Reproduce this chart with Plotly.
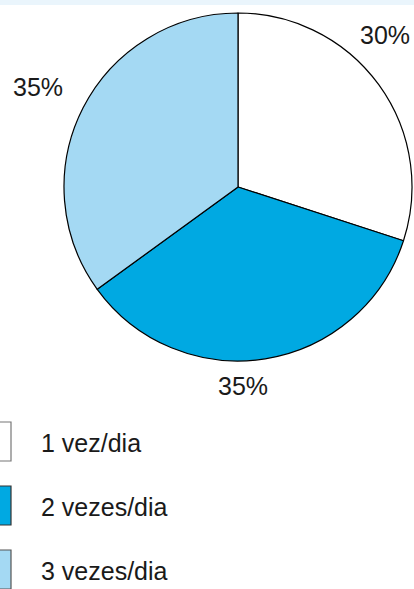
import plotly.graph_objects as go

W, H = 414, 589

labels = ['1 vez/dia', '2 vezes/dia', '3 vezes/dia']
values = [30, 35, 35]
colors = ['#ffffff', '#00a9e2', '#a4d9f3']
legend_edge = ['#777777', '#333333', '#555555']

# where the percent labels sit (pixels)
pct_pos = [(385, 35), (243, 386), (38, 87)]

fig = go.Figure(go.Pie(labels = labels,
                       values = values,
                       sort = False,
                       direction = 'clockwise',
                       rotation = 0,
                       textinfo = 'none',
                       marker = dict(colors = colors, line = dict(color = '#000000', width = 1.2)),
                       domain = dict(x = [64 / W, 412 / W], y = [1 - 361 / H, 1 - 13 / H]),
                       showlegend = False))

font = dict(family = 'Liberation Sans, Arial, sans-serif', size = 25, color = '#1a1a1a')

annotations = []
for v, (px, py) in zip(values, pct_pos):
    annotations.append(dict(x = px / W, y = 1 - py / H, xref = 'paper', yref = 'paper',
                            text = f'{v}%', showarrow = False, font = font,
                            xanchor = 'center', yanchor = 'middle'))

shapes = [dict(type = 'rect', xref = 'paper', yref = 'paper', x0 = 0, x1 = 1,
               y0 = 1 - 5 / H, y1 = 1, fillcolor = '#eaf5fc', line = dict(width = 0), layer = 'below')]

# hand-made legend with large swatches
for i, lab in enumerate(labels):
    top = 422 + i * 64
    shapes.append(dict(type = 'rect', xref = 'paper', yref = 'paper',
                       x0 = -28 / W, x1 = 11 / W, y0 = 1 - (top + 39) / H, y1 = 1 - top / H,
                       fillcolor = colors[i], line = dict(color = legend_edge[i], width = 1.2)))
    annotations.append(dict(x = 39 / W, y = 1 - (top + 21) / H, xref = 'paper', yref = 'paper',
                            text = lab, showarrow = False, font = font,
                            xanchor = 'left', yanchor = 'middle'))

fig.update_layout(width = W, height = H,
                  margin = dict(l = 0, r = 0, t = 0, b = 0),
                  paper_bgcolor = '#ffffff',
                  plot_bgcolor = '#ffffff',
                  shapes = shapes,
                  annotations = annotations)

# drop the default 8px page margin so the figure fills the window
fig.write_html('out.html', config = {'displayModeBar': False},
               post_script = "document.body.style.margin='0';")
